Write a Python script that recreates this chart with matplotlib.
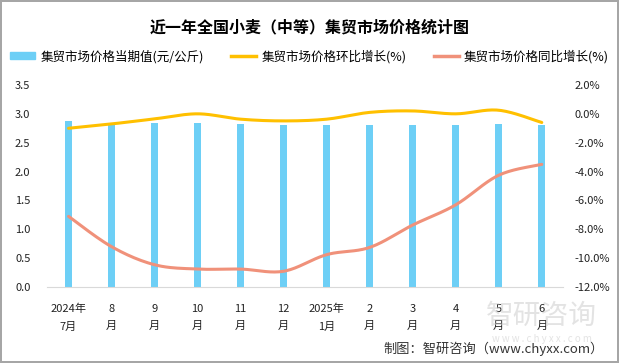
import numpy as np
import matplotlib
matplotlib.use('Agg')
import matplotlib.pyplot as plt
from matplotlib.patches import Patch
from matplotlib.lines import Line2D

plt.rcParams['font.family'] = ['Noto Sans CJK SC', 'DejaVu Sans']

# 数据
categories = ['2024年\n7月', '8\n月', '9\n月', '10\n月', '11\n月', '12\n月',
              '2025年\n1月', '2\n月', '3\n月', '4\n月', '5\n月', '6\n月']
price = [2.87, 2.83, 2.84, 2.84, 2.82, 2.81, 2.81, 2.81, 2.81, 2.81, 2.83, 2.81]
mom = [-1.0, -0.7, -0.35, 0.0, -0.37, -0.49, -0.37, 0.1, 0.2, 0.0, 0.25, -0.6]
yoy = [-7.1, -9.2, -10.45, -10.75, -10.75, -10.9, -9.75, -9.25, -7.7, -6.3, -4.25, -3.5]

bar_color = '#6DCFF6'
mom_color = '#FFC000'
yoy_color = '#F0917A'


def smooth(x, y, n=20):
    # 类似Excel平滑线的曲线
    x = np.asarray(x, float)
    y = np.asarray(y, float)
    px = np.concatenate([[x[0]], x, [x[-1]]])
    py = np.concatenate([[y[0]], y, [y[-1]]])
    xs, ys = [], []
    for i in range(1, len(px) - 2):
        p0, p1, p2, p3 = px[i-1], px[i], px[i+1], px[i+2]
        q0, q1, q2, q3 = py[i-1], py[i], py[i+1], py[i+2]
        c1x, c1y = p1 + (p2 - p0) / 6, q1 + (q2 - q0) / 6
        c2x, c2y = p2 - (p3 - p1) / 6, q2 - (q3 - q1) / 6
        t = np.linspace(0, 1, n)
        xs.append((1-t)**3*p1 + 3*(1-t)**2*t*c1x + 3*(1-t)*t**2*c2x + t**3*p2)
        ys.append((1-t)**3*q1 + 3*(1-t)**2*t*c1y + 3*(1-t)*t**2*c2y + t**3*q2)
    return np.concatenate(xs), np.concatenate(ys)


fig = plt.figure(figsize=(6.19, 3.63), dpi=100)
fig.patch.set_edgecolor('#A6A6A6')
fig.patch.set_linewidth(1.5)

ax = fig.add_axes([0.076, 0.209, 0.834, 0.557])
x = np.arange(len(categories))
ax.bar(x, price, width=0.16, color=bar_color, zorder=2)
ax.set_xlim(-0.5, len(categories) - 0.5)
ax.set_ylim(0, 3.5)
ax.set_yticks(np.arange(0, 3.51, 0.5))
ax.set_yticklabels(['%.1f' % v for v in np.arange(0, 3.51, 0.5)])
ax.set_xticks(x)
ax.set_xticklabels(categories, linespacing=1.9)
for s in ['top', 'left', 'right']:
    ax.spines[s].set_visible(False)
ax.spines['bottom'].set_color('#D9D9D9')
ax.tick_params(axis='both', length=0, labelsize=8, colors='#222222')
ax.tick_params(axis='y', pad=12)
ax.tick_params(axis='x', pad=12)

ax2 = ax.twinx()
ax2.set_ylim(-12, 2)
ax2.set_yticks(np.arange(-12, 2.1, 2))
ax2.set_yticklabels(['%.1f%%' % v for v in np.arange(-12, 2.1, 2)])
for s in ['top', 'left', 'right', 'bottom']:
    ax2.spines[s].set_visible(False)
ax2.tick_params(axis='y', length=0, labelsize=8, colors='#222222', pad=8)

sx, sy = smooth(x, mom)
ax2.plot(sx, sy, color=mom_color, lw=2.2, solid_capstyle='round', zorder=3)
sx, sy = smooth(x, yoy)
ax2.plot(sx, sy, color=yoy_color, lw=2.2, solid_capstyle='round', zorder=3)

fig.text(0.5, 0.925, '近一年全国小麦（中等）集贸市场价格统计图', ha='center', va='center',
         fontsize=11.5, fontweight='bold')

handles = [Patch(color=bar_color),
           Line2D([], [], color=mom_color, lw=2.5),
           Line2D([], [], color=yoy_color, lw=2.5)]
labels = ['集贸市场价格当期值(元/公斤)', '集贸市场价格环比增长(%)', '集贸市场价格同比增长(%)']
fig.legend(handles, labels, loc='center', bbox_to_anchor=(0.5, 0.845), ncol=3,
           frameon=False, fontsize=9, handlelength=2.0, handleheight=0.5,
           columnspacing=2.2, handletextpad=0.4)

# 水印
fig.text(0.875, 0.13, '智研咨询', ha='center', va='center', fontsize=20,
         color='#C8C8C8', alpha=0.5, zorder=0)
fig.text(0.875, 0.065, 'w w w . c h y x x . c o m', ha='center', va='center', fontsize=7,
         color='#C8C8C8', alpha=0.5, zorder=0)
fig.text(0.975, 0.04, '制图：智研咨询（www.chyxx.com）', ha='right', va='center',
         fontsize=9.5, color='#333333')

fig.savefig('out.png', dpi=100)
